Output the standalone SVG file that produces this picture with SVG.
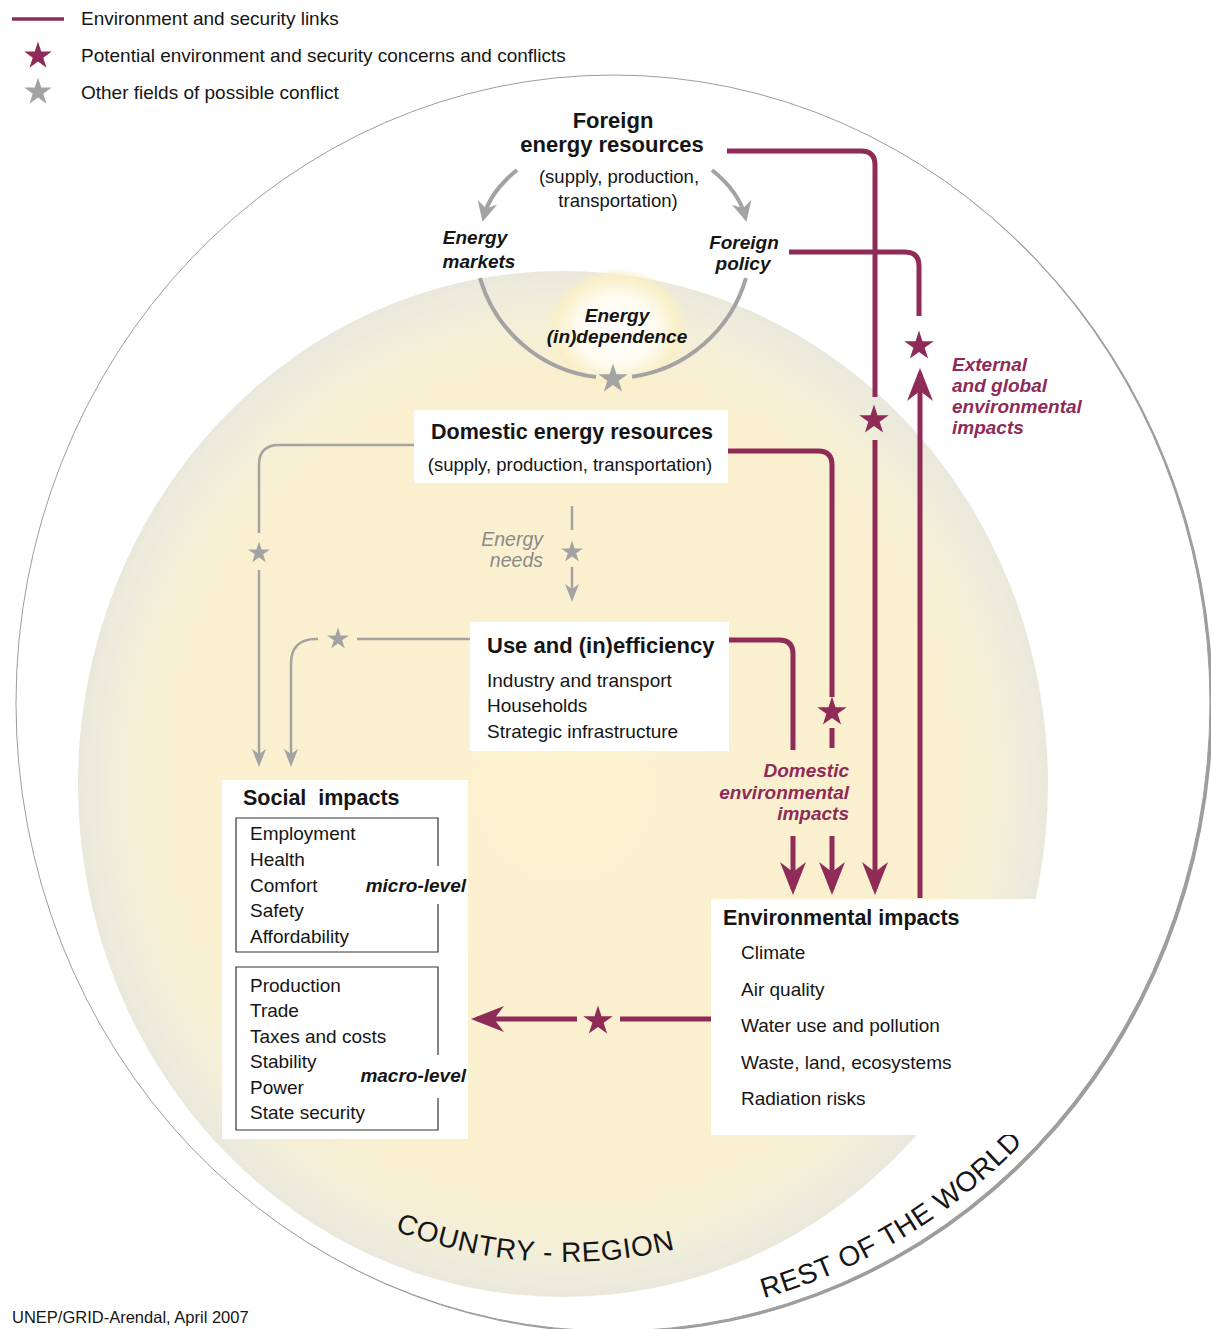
<svg xmlns="http://www.w3.org/2000/svg" width="1211" height="1329" viewBox="0 0 1211 1329">
<defs>
<style>
.t{font-family:"Liberation Sans",Arial,sans-serif;fill:#151515}
.b{font-weight:bold}
.i{font-style:italic}
.s19{font-size:19px}
.s185{font-size:18.5px}
.s22{font-size:22px}
.s215{font-size:21.5px}
.mt{fill:#8e2b57}
.gt{fill:#8a8a8a}
.ml{fill:none;stroke:#8e2b57;stroke-width:5}
.gl{fill:none;stroke:#a3a3a3;stroke-width:2.5}
.gk{fill:none;stroke:#a3a3a3;stroke-width:4}
.box{fill:#ffffff}
.ibox{fill:none;stroke:#333333;stroke-width:1.2}
.ms{fill:#8e2b57}
.gs{fill:#a3a3a3}
</style>
<path id="star" d="M0,-10 L2.245,-3.09 L9.511,-3.09 L3.633,1.18 L5.878,8.09 L0,3.82 L-5.878,8.09 L-3.633,1.18 L-9.511,-3.09 L-2.245,-3.09 Z"/>
<marker id="am" markerUnits="userSpaceOnUse" markerWidth="50" markerHeight="40" viewBox="-30 -20 50 40" refX="0" refY="0" orient="auto" overflow="visible">
<path d="M6,0 L-27,-13 L-17,0 L-27,13 Z" fill="#8e2b57"/>
</marker>
<marker id="ag" markerUnits="userSpaceOnUse" markerWidth="30" markerHeight="30" viewBox="-15 -15 30 30" refX="0" refY="0" orient="auto" overflow="visible">
<path d="M8,0 L-10,-7 L-5,0 L-10,7 Z" fill="#a3a3a3"/>
</marker>
<marker id="agk" markerUnits="userSpaceOnUse" markerWidth="40" markerHeight="40" viewBox="-20 -20 40 40" refX="0" refY="0" orient="auto" overflow="visible">
<path d="M6,0 L-14,-10 L-8,0 L-14,10 Z" fill="#a3a3a3"/>
</marker>
<radialGradient id="disc" cx="0.5" cy="0.5" r="0.5">
<stop offset="0" stop-color="#fbf1cf"/>
<stop offset="0.78" stop-color="#faf0cf"/>
<stop offset="0.9" stop-color="#f4efd7"/>
<stop offset="0.97" stop-color="#ecebdc"/>
<stop offset="1" stop-color="#e9e8db"/>
</radialGradient>
<radialGradient id="glow" cx="0.5" cy="0.5" r="0.5">
<stop offset="0" stop-color="#ffffff"/>
<stop offset="0.55" stop-color="#fefbf0"/>
<stop offset="0.85" stop-color="#f9efc8"/>
<stop offset="1" stop-color="#f9efc8" stop-opacity="0"/>
</radialGradient>
</defs>

<g id="background">
<ellipse cx="616" cy="705" rx="597" ry="628" fill="#9d9d9d"/>
<ellipse cx="613" cy="703" rx="597" ry="628" fill="#ffffff" stroke="#9d9d9d" stroke-width="1"/>
<ellipse cx="563" cy="784" rx="485" ry="513" fill="url(#disc)"/>
<ellipse cx="617" cy="330" rx="72" ry="62" fill="url(#glow)"/>
<path id="cr" d="M88,785 A477,477 0 0 0 1042,785" fill="none"/>
<path id="rw" d="M762,1298.7 A585,616 0 0 0 1198,703" fill="none"/>
<text class="t" font-size="28" letter-spacing="0.8" text-anchor="middle"><textPath href="#cr" startOffset="718">COUNTRY - REGION</textPath></text>
<text class="t" font-size="28" letter-spacing="0.6"><textPath href="#rw" startOffset="2">REST OF THE WORLD</textPath></text>
</g>

<g id="legend">
<line x1="12" y1="19" x2="64" y2="19" stroke="#8e2b57" stroke-width="3.5"/>
<text class="t s19" x="81" y="25">Environment and security links</text>
<use href="#star" class="ms" transform="translate(38,56) scale(1.45)"/>
<text class="t s19" x="81" y="62">Potential environment and security concerns and conflicts</text>
<use href="#star" class="gs" transform="translate(38,92) scale(1.45)"/>
<text class="t s19" x="81" y="99">Other fields of possible conflict</text>
</g>

<g id="foreign-energy-resources">
<text class="t b s22" x="613" y="128" text-anchor="middle">Foreign</text>
<text class="t b s22" x="612" y="152" text-anchor="middle">energy resources</text>
<text class="t s185" x="619" y="183" text-anchor="middle">(supply, production,</text>
<text class="t s185" x="618" y="207" text-anchor="middle">transportation)</text>
</g>

<g id="energy-markets">
<text class="t b i s19" x="475" y="244" text-anchor="middle">Energy</text>
<text class="t b i s19" x="479" y="268" text-anchor="middle">markets</text>
</g>

<g id="foreign-policy">
<text class="t b i s19" x="744" y="249" text-anchor="middle">Foreign</text>
<text class="t b i s19" x="743" y="270" text-anchor="middle">policy</text>
</g>

<g id="energy-independence">
<text class="t b i s19" x="617" y="322" text-anchor="middle">Energy</text>
<text class="t b i s19" x="617" y="343" text-anchor="middle">(in)dependence</text>
</g>

<g id="domestic-energy-resources">
<rect class="box" x="414" y="410" width="314" height="73"/>
<text class="t b s215" x="572" y="439" text-anchor="middle">Domestic energy resources</text>
<text class="t s185" x="570" y="471" text-anchor="middle">(supply, production, transportation)</text>
</g>

<g id="use-inefficiency">
<rect class="box" x="470" y="622" width="259" height="129"/>
<text class="t b s22" x="487" y="653">Use and (in)efficiency</text>
<text class="t s19" x="487" y="687">Industry and transport</text>
<text class="t s19" x="487" y="712">Households</text>
<text class="t s19" x="487" y="738">Strategic infrastructure</text>
</g>

<g id="social-impacts">
<rect class="box" x="222" y="780" width="246" height="359"/>
<text class="t b s215" x="243" y="805" xml:space="preserve">Social  impacts</text>
<path class="ibox" d="M438,866 V818 H236 V952 H438 V904"/>
<text class="t s19" x="250" y="840">Employment</text>
<text class="t s19" x="250" y="866">Health</text>
<text class="t s19" x="250" y="892">Comfort</text>
<text class="t s19" x="250" y="917">Safety</text>
<text class="t s19" x="250" y="943">Affordability</text>
<text class="t b i s19" x="466" y="892" text-anchor="end">micro-level</text>
<path class="ibox" d="M438,1055 V967 H236 V1130 H438 V1098"/>
<text class="t s19" x="250" y="992">Production</text>
<text class="t s19" x="250" y="1017">Trade</text>
<text class="t s19" x="250" y="1043">Taxes and costs</text>
<text class="t s19" x="250" y="1068">Stability</text>
<text class="t s19" x="250" y="1094">Power</text>
<text class="t s19" x="250" y="1119">State security</text>
<text class="t b i s19" x="466" y="1082" text-anchor="end">macro-level</text>
</g>

<g id="environmental-impacts">
<rect class="box" x="711" y="899" width="324" height="236"/>
<text class="t b s215" x="723" y="925">Environmental impacts</text>
<text class="t s19" x="741" y="959">Climate</text>
<text class="t s19" x="741" y="996">Air quality</text>
<text class="t s19" x="741" y="1032">Water use and pollution</text>
<text class="t s19" x="741" y="1069">Waste, land, ecosystems</text>
<text class="t s19" x="741" y="1105">Radiation risks</text>
</g>

<g id="labels">
<text class="t b i s19 mt" x="952" y="371">External</text>
<text class="t b i s19 mt" x="952" y="392">and global</text>
<text class="t b i s19 mt" x="952" y="413">environmental</text>
<text class="t b i s19 mt" x="952" y="434">impacts</text>
<text class="t b i s19 mt" x="849" y="777" text-anchor="end">Domestic</text>
<text class="t b i s19 mt" x="849" y="799" text-anchor="end">environmental</text>
<text class="t b i s19 mt" x="849" y="820" text-anchor="end">impacts</text>
<text class="t i gt" font-size="19.5" x="543" y="546" text-anchor="end">Energy</text>
<text class="t i gt" font-size="19.5" x="543" y="567" text-anchor="end">needs</text>
</g>

<g id="connectors">
<path class="gk" d="M517,170 Q490,192 484,216" marker-end="url(#agk)"/>
<path class="gk" d="M712,170 Q739,192 745,216" marker-end="url(#agk)"/>
<path class="gk" d="M480,278 A138.5,138.5 0 0 0 596,377"/>
<path class="gk" d="M632,376.7 A138.5,138.5 0 0 0 746,278"/>
<use href="#star" class="gs" transform="translate(613,379) scale(1.55)"/>

<path class="gl" d="M414,445 H279 Q259,445 259,465 V533"/>
<path class="gl" d="M259,570 V759" marker-end="url(#ag)"/>
<use href="#star" class="gs" transform="translate(259,553) scale(1.15)"/>
<path class="gl" d="M470,639 H357"/>
<use href="#star" class="gs" transform="translate(338,639) scale(1.15)"/>
<path class="gl" d="M318,639 H316 Q291,639 291,664 V759" marker-end="url(#ag)"/>
<path class="gl" d="M572,506 V530"/>
<use href="#star" class="gs" transform="translate(572,552) scale(1.15)"/>
<path class="gl" d="M572,567 V594" marker-end="url(#ag)"/>

<path class="ml" d="M727,151 H861 Q875,151 875,165 V397"/>
<use href="#star" class="ms" transform="translate(874,420) scale(1.55)"/>
<path class="ml" d="M875,440 V889" marker-end="url(#am)"/>
<path class="ml" d="M789,252 H905 Q919,252 919,266 V316"/>
<use href="#star" class="ms" transform="translate(919,346) scale(1.55)"/>
<path class="ml" d="M920,898 V374" marker-end="url(#am)"/>
<path class="ml" d="M728,451 H818 Q832,451 832,465 V697"/>
<use href="#star" class="ms" transform="translate(832,712) scale(1.55)"/>
<path class="ml" d="M832,728 V748"/>
<path class="ml" d="M832,836 V889" marker-end="url(#am)"/>
<path class="ml" d="M729,640 H779 Q793,640 793,654 V750"/>
<path class="ml" d="M793,836 V889" marker-end="url(#am)"/>
<path class="ml" d="M711,1019 H620"/>
<use href="#star" class="ms" transform="translate(598,1021) scale(1.55)"/>
<path class="ml" d="M577,1019 H477" marker-end="url(#am)"/>
</g>

<g id="credit">
<text class="t" font-size="16.5" x="12" y="1323">UNEP/GRID-Arendal, April 2007</text>
</g>
</svg>
